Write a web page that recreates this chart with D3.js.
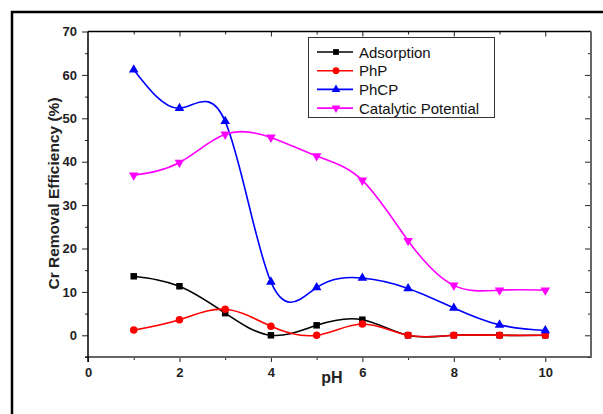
<!DOCTYPE html>
<html>
<head>
<meta charset="utf-8">
<script src="https://cdn.jsdelivr.net/npm/d3@7"></script>
<style>
  body { margin: 0; background: #fff; }
  svg { display: block; font-family: "Liberation Sans", Arial, sans-serif; }
</style>
</head>
<body>
<div class="container"></div>
<script>
// pH values and the four series
var phValues = [1, 2, 3, 4, 5, 6, 7, 8, 9, 10];
var adsorption = [13.6, 11.3, 5.1, 0, 2.3, 3.6, 0, 0, 0, 0];
var php = [1.2, 3.6, 6.0, 2.1, 0, 2.6, 0, 0, 0, 0];
var phcp = [61.2, 52.3, 49.3, 12.3, 11.0, 13.2, 10.8, 6.3, 2.4, 1.1];
var catalytic = [36.9, 39.8, 46.3, 45.6, 41.3, 35.7, 21.8, 11.5, 10.4, 10.4];

var seriesNames = ["Adsorption", "PhP", "PhCP", "Catalytic Potential"];
var xTickLabels = [0, 2, 4, 6, 8, 10];
var yTickLabels = [0, 10, 20, 30, 40, 50, 60, 70];

var charter = function () {
	var width = 603, height = 414;

	var init = function () {
		var paper = d3.select('.container').append("svg")
			.attr("width", width)
			.attr("height", height);

		// outer frame (runs off the right and bottom edges)
		paper.append("rect")
			.attr("x", 12).attr("y", 12)
			.attr("width", 640).attr("height", 460)
			.attr("fill", "none")
			.attr("stroke", "#000")
			.attr("stroke-width", 2.5);

		var x = d3.scaleLinear().domain([0, 11]).range([88, 591]);
		var y = d3.scaleLinear().domain([-5, 70]).range([357, 31.5]);

		var series = [
			{ name: seriesNames[0], values: adsorption, color: "#000000", symbol: d3.symbolSquare, size: 42, rot: 0 },
			{ name: seriesNames[1], values: php, color: "#ff0000", symbol: d3.symbolCircle, size: 44, rot: 0 },
			{ name: seriesNames[2], values: phcp, color: "#0000ff", symbol: d3.symbolTriangle, size: 40, rot: 0 },
			{ name: seriesNames[3], values: catalytic, color: "#ff00ff", symbol: d3.symbolTriangle, size: 40, rot: 180 }
		];

		var minorX = d3.range(1, 11, 2);
		var minorY = [-5, 5, 15, 25, 35, 45, 55, 65];

		// bottom axis
		var bottom = paper.append("g").attr("transform", "translate(0," + y(-5) + ")");
		bottom.call(d3.axisBottom(x).tickValues(xTickLabels).tickSize(5).tickPadding(6).tickFormat(d3.format("d")));
		bottom.append("g").call(d3.axisBottom(x).tickValues(minorX).tickSize(3).tickFormat(""));
		bottom.selectAll(".domain").remove();
		bottom.append("line").attr("x1", 85).attr("x2", 592).attr("y1", 0).attr("y2", 0)
			.attr("stroke", "#666").attr("stroke-width", 2);

		// left axis
		var left = paper.append("g").attr("transform", "translate(" + x(0) + ",0)");
		left.call(d3.axisLeft(y).tickValues(yTickLabels).tickSize(6).tickPadding(5).tickFormat(d3.format("d")));
		left.append("g").call(d3.axisLeft(y).tickValues(minorY).tickSize(3).tickFormat(""));
		left.selectAll(".domain").remove();
		left.append("line").attr("x1", 0).attr("x2", 0).attr("y1", y(70)).attr("y2", 362)
			.attr("stroke", "#000").attr("stroke-width", 1.5);

		// top axis, ticks inward
		var top = paper.append("g").attr("transform", "translate(0," + y(70) + ")");
		top.call(d3.axisBottom(x).tickValues(xTickLabels.slice(1)).tickSize(5).tickFormat(""));
		top.append("g").call(d3.axisBottom(x).tickValues(minorX).tickSize(3).tickFormat(""));
		top.selectAll(".domain").remove();
		top.append("line").attr("x1", x(0)).attr("x2", x(11)).attr("y1", 0).attr("y2", 0)
			.attr("stroke", "#000").attr("stroke-width", 1.5);

		// right axis, ticks inward
		var right = paper.append("g").attr("transform", "translate(" + x(11) + ",0)");
		right.call(d3.axisLeft(y).tickValues(yTickLabels.slice(0, 7)).tickSize(6).tickFormat(""));
		right.append("g").call(d3.axisLeft(y).tickValues(minorY).tickSize(3).tickFormat(""));
		right.selectAll(".domain").remove();
		right.append("line").attr("x1", 0).attr("x2", 0).attr("y1", y(70)).attr("y2", y(-5) + 1)
			.attr("stroke", "#666").attr("stroke-width", 2);

		paper.selectAll(".tick line").attr("stroke", "#222").attr("stroke-width", 1);
		paper.selectAll(".tick text")
			.attr("font-family", "Liberation Sans, Arial, sans-serif")
			.attr("font-size", 13).attr("font-weight", "bold").attr("fill", "#222");

		// axis titles
		paper.append("text")
			.attr("transform", "translate(59,193.5) rotate(-90)")
			.attr("text-anchor", "middle")
			.attr("font-size", 15.5).attr("font-weight", "bold").attr("fill", "#222")
			.text("Cr Removal Efficiency (%)");

		paper.append("text")
			.attr("x", 332).attr("y", 383)
			.attr("text-anchor", "middle")
			.attr("font-size", 16).attr("font-weight", "bold").attr("fill", "#222")
			.text("pH");

		// curves
		var line = d3.line()
			.x(function (d, i) { return x(phValues[i]); })
			.y(function (d) { return y(d); })
			.curve(d3.curveNatural);

		var groups = paper.selectAll("g.series")
			.data(series)
			.enter().append("g").attr("class", "series");

		groups.append("path")
			.attr("d", function (d) { return line(d.values); })
			.attr("fill", "none")
			.attr("stroke", function (d) { return d.color; })
			.attr("stroke-width", 1.6);

		groups.each(function (s) {
			d3.select(this).selectAll("path.mark")
				.data(s.values)
				.enter().append("path")
				.attr("class", "mark")
				.attr("d", d3.symbol().type(s.symbol).size(s.size))
				.attr("fill", s.color)
				.attr("transform", function (d, i) {
					return "translate(" + x(phValues[i]) + "," + y(d) + ") rotate(" + s.rot + ")";
				});
		});

		// legend
		var legend = paper.append("g");
		legend.append("rect")
			.attr("x", 308.5).attr("y", 37.5)
			.attr("width", 186).attr("height", 80)
			.attr("fill", "#fff").attr("stroke", "#333").attr("stroke-width", 1);

		var rows = legend.selectAll("g.row")
			.data(series)
			.enter().append("g")
			.attr("transform", function (d, i) { return "translate(0," + (52 + i * 18.7) + ")"; });

		rows.append("line")
			.attr("x1", 317).attr("x2", 353)
			.attr("stroke", function (d) { return d.color; })
			.attr("stroke-width", 1.6);
		rows.append("path")
			.attr("d", function (d) { return d3.symbol().type(d.symbol).size(d.size * 0.8)(); })
			.attr("fill", function (d) { return d.color; })
			.attr("transform", function (d) { return "translate(336,0) rotate(" + d.rot + ")"; });
		rows.append("text")
			.attr("x", 359).attr("y", 5.5)
			.attr("font-size", 15).attr("fill", "#111")
			.text(function (d) { return d.name; });
	};

	return Object.freeze({ init: init });
};

var c = charter();
c.init();
</script>
</body>
</html>
